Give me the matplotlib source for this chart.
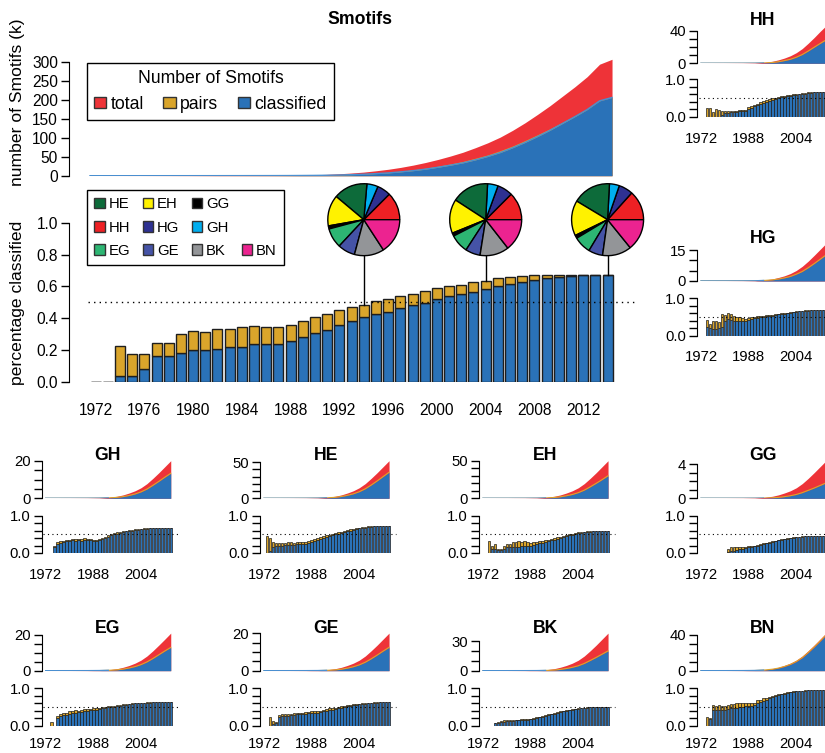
import numpy as np
import matplotlib.pyplot as plt
from matplotlib.patches import Patch

plt.rcParams['font.family'] = ['Liberation Sans', 'DejaVu Sans']

W, H = 825, 753
fig = plt.figure(figsize=(W / 100, H / 100), dpi=100)

RED = '#EE3338'
GOLD = '#DAA52B'
BLUE = '#2A72B8'
EDGE = '#1e1e1e'

years = np.arange(1972, 2015)

# main chart: cumulative number of smotifs (thousands)
main_total_k = [0.01, 0.02, 0.05, 0.08, 0.1, 0.15, 0.2, 0.25, 0.3, 0.4,
                0.5, 0.6, 0.7, 0.85, 1.0, 1.2, 1.5, 2.0, 2.6, 3.5,
                5, 7, 9.5, 13, 17, 22, 28, 35, 43, 52,
                62, 74, 87, 102, 120, 140, 162, 185, 210, 235,
                262, 295, 308]
main_pairs_k = [0, 0, 0.01, 0.01, 0.02, 0.04, 0.05, 0.07, 0.1, 0.12,
                0.17, 0.2, 0.24, 0.3, 0.35, 0.41, 0.54, 0.76, 1.05, 1.5,
                2.25, 3.3, 4.6, 6.6, 8.8, 11.9, 15.5, 20, 25.2, 31.2,
                37.8, 46.3, 55.1, 66.3, 78.7, 93.1, 108.4, 124.1, 141.3, 158.2,
                176, 198.5, 207.3]
main_class_k = [0, 0, 0, 0, 0.01, 0.02, 0.03, 0.05, 0.06, 0.08,
                0.1, 0.13, 0.15, 0.2, 0.24, 0.29, 0.38, 0.56, 0.8, 1.15,
                1.8, 2.7, 3.8, 5.5, 7.4, 10.2, 13.4, 17.4, 22.4, 27.9,
                34, 41.9, 50.9, 61.2, 73.9, 88, 103.5, 120, 138, 156,
                175, 198, 207]

# main chart: fraction of pairs / classified per year
main_pairs_frac = [0, 0, 0.227, 0.177, 0.173, 0.242, 0.246, 0.297, 0.318, 0.312,
                   0.33, 0.33, 0.343, 0.35, 0.345, 0.343, 0.358, 0.379, 0.406, 0.423,
                   0.45, 0.467, 0.484, 0.505, 0.52, 0.539, 0.553, 0.572, 0.587, 0.60,
                   0.61, 0.625, 0.633, 0.65, 0.656, 0.665, 0.669, 0.671, 0.673, 0.673,
                   0.673, 0.673, 0.673]
main_class_frac = [0, 0, 0.038, 0.038, 0.08, 0.162, 0.16, 0.183, 0.202, 0.202,
                   0.206, 0.221, 0.221, 0.236, 0.24, 0.24, 0.255, 0.282, 0.309, 0.328,
                   0.358, 0.381, 0.404, 0.423, 0.438, 0.463, 0.481, 0.497, 0.52, 0.537,
                   0.549, 0.566, 0.585, 0.60, 0.616, 0.629, 0.639, 0.65, 0.658, 0.665,
                   0.669, 0.671, 0.673]

# pie charts (degrees of each class)
pie_labels = ['HH', 'HG', 'GH', 'HE', 'EH', 'GG', 'EG', 'GE', 'BK', 'BN']
pie_years = [1994, 2004, 2014]
pie_1994 = [45, 22, 18, 55, 50, 5, 32, 28, 48, 57]
pie_2004 = [45, 25, 17, 60, 55, 5, 30, 24, 47, 52]
pie_2014 = [48, 23, 16, 62, 57, 5, 28, 23, 47, 51]

class_colors = {'HE': '#0D6B3A', 'EH': '#FFF200', 'GG': '#000000',
                'HH': '#EE2024', 'HG': '#2E3192', 'GH': '#00AEEF',
                'EG': '#2DB673', 'GE': '#4553A6', 'BK': '#939598',
                'BN': '#EC2390'}

# small panels: cumulative totals (thousands) at these years
area_years = [1972, 1980, 1986, 1990, 1993, 1996, 1998, 2000, 2002, 2004,
              2006, 2008, 2010, 2012, 2014]
sm_total = {
    'HH': [0, 0.05, 0.15, 0.4, 1.1, 2.5, 4.2, 6.4, 9.2, 13, 18, 24.5, 31.5, 39, 46],
    'HG': [0, 0.02, 0.06, 0.15, 0.45, 1.0, 1.7, 2.5, 3.6, 5.1, 7.1, 9.6, 12.4, 15.3, 18.2],
    'GH': [0, 0.02, 0.06, 0.16, 0.46, 1.1, 1.8, 2.8, 4.0, 5.6, 7.8, 10.6, 13.6, 16.8, 20],
    'HE': [0, 0.05, 0.16, 0.42, 1.2, 2.9, 4.7, 7.3, 10.4, 14.6, 20.3, 27.6, 35.4, 43.7, 52],
    'EH': [0, 0.05, 0.15, 0.4, 1.15, 2.75, 4.5, 7, 10, 14, 19.5, 26.5, 34, 42, 50],
    'GG': [0, 0.004, 0.013, 0.035, 0.1, 0.24, 0.4, 0.62, 0.88, 1.23, 1.72, 2.33, 3.0, 3.7, 4.4],
    'EG': [0, 0.02, 0.06, 0.17, 0.48, 1.15, 1.9, 2.9, 4.2, 5.9, 8.2, 11.1, 14.3, 17.6, 21],
    'GE': [0, 0.02, 0.06, 0.16, 0.46, 1.1, 1.8, 2.8, 4.0, 5.6, 7.8, 10.6, 13.6, 16.8, 20],
    'BK': [0, 0.04, 0.12, 0.3, 0.9, 2.1, 3.5, 5.3, 7.6, 10.6, 14.8, 20.1, 25.8, 31.9, 38],
    'BN': [0, 0.04, 0.13, 0.34, 0.97, 2.3, 3.8, 5.9, 8.4, 11.8, 16.4, 22.3, 28.6, 35.3, 42],
}
sm_class = {
    'HH': [0, 0.01, 0.03, 0.1, 0.35, 1.0, 1.9, 3.3, 4.9, 7.4, 10.7, 15, 19.6, 24.2, 28.6],
    'HG': [0, 0.01, 0.03, 0.08, 0.25, 0.55, 0.95, 1.5, 2.2, 3.3, 4.6, 6.4, 8.4, 10.5, 12.6],
    'GH': [0, 0.01, 0.02, 0.06, 0.2, 0.5, 0.9, 1.5, 2.3, 3.4, 4.9, 6.9, 9.0, 11.2, 13.3],
    'HE': [0, 0.02, 0.06, 0.18, 0.55, 1.4, 2.5, 4.1, 6.2, 9.1, 13.1, 18.3, 24, 30, 36],
    'EH': [0, 0.01, 0.04, 0.12, 0.4, 1.1, 2.0, 3.4, 5.1, 7.5, 10.8, 15.2, 19.9, 24.8, 30],
    'GG': [0, 0, 0, 0.005, 0.02, 0.06, 0.11, 0.19, 0.3, 0.45, 0.66, 0.93, 1.2, 1.5, 1.8],
    'EG': [0, 0.005, 0.02, 0.07, 0.2, 0.5, 0.9, 1.5, 2.3, 3.4, 4.9, 6.8, 8.9, 11, 13],
    'GE': [0, 0.005, 0.02, 0.06, 0.18, 0.45, 0.8, 1.35, 2.1, 3.1, 4.5, 6.3, 8.3, 10.4, 12.4],
    'BK': [0, 0.005, 0.02, 0.07, 0.25, 0.7, 1.3, 2.2, 3.4, 5.0, 7.3, 10.3, 13.4, 16.7, 20],
    'BN': [0, 0.02, 0.07, 0.2, 0.65, 1.7, 2.9, 4.7, 7.0, 10.2, 14.5, 20.2, 26.4, 33, 40],
}
sm_top_tick = {'HH': (40, 10), 'HG': (15, 5), 'GH': (20, 5), 'HE': (50, 10),
               'EH': (50, 10), 'GG': (4, 1), 'EG': (20, 5), 'GE': (20, 5),
               'BK': (30, 10), 'BN': (40, 10)}

# small panels: fraction of pairs / classified per year (1972-2014)
sm_pairs = {
    'HH': [0, 0, .24, .23, .12, .2, .18, .16, .15, .15, .15, .15, .16, .17, .17, .18, .25, .28, .32, .35,
           .38, .41, .44, .47, .49, .51, .53, .55, .56, .58, .59, .60, .61, .62, .63, .64, .65, .66, .66, .67,
           .67, .67, .67],
    'HG': [0, 0, .42, .3, .38, .4, .36, .58, .55, .62, .58, .52, .5, .49, .47, .45, .47, .49, .5, .52,
           .53, .54, .55, .56, .56, .57, .59, .6, .61, .62, .63, .64, .65, .66, .67, .68, .68, .69, .69, .69,
           .69, .69, .69],
    'GH': [0, 0, 0, .2, .3, .31, .33, .36, .36, .38, .37, .38, .37, .39, .38, .38, .36, .36, .37, .4,
           .43, .47, .5, .53, .55, .57, .59, .6, .61, .62, .63, .64, .65, .66, .66, .67, .67, .67, .67, .67,
           .67, .67, .67],
    'HE': [0, .45, .4, .3, .26, .28, .27, .28, .3, .3, .28, .29, .3, .3, .3, .32, .35, .38, .4, .42,
           .45, .47, .49, .51, .53, .55, .57, .59, .61, .63, .65, .66, .68, .69, .7, .71, .72, .72, .73, .73,
           .73, .73, .73],
    'EH': [0, 0, .33, .2, .24, .1, .1, .2, .25, .25, .3, .3, .32, .3, .31, .3, .28, .29, .3, .31,
           .33, .35, .36, .38, .4, .42, .44, .46, .48, .5, .52, .54, .55, .56, .57, .58, .59, .6, .6, .6,
           .6, .6, .6],
    'GG': [0, 0, 0, 0, 0, 0, 0, 0, 0, .12, .15, .15, .16, .15, .16, .17, .18, .19, .2, .22,
           .24, .26, .28, .3, .32, .33, .35, .37, .38, .4, .41, .42, .43, .44, .45, .45, .46, .46, .46, .46,
           .46, .46, .46],
    'EG': [0, 0, .1, 0, .25, .3, .35, .33, .38, .4, .42, .4, .42, .44, .45, .45, .47, .47, .48, .5,
           .5, .52, .53, .54, .55, .56, .57, .58, .59, .6, .61, .61, .62, .62, .63, .63, .63, .63, .63, .63,
           .63, .63, .63],
    'GE': [0, 0, .22, .12, .1, .28, .3, .3, .3, .32, .34, .34, .33, .35, .36, .36, .38, .38, .38, .4,
           .42, .44, .46, .47, .48, .5, .52, .53, .55, .56, .57, .58, .59, .6, .61, .62, .62, .63, .63, .63,
           .63, .63, .63],
    'BK': [0, 0, 0, 0, .08, .1, .12, .14, .14, .15, .15, .16, .16, .17, .18, .18, .19, .2, .22, .24,
           .26, .28, .3, .32, .34, .36, .38, .4, .41, .43, .44, .45, .46, .47, .48, .49, .5, .5, .5, .5,
           .5, .5, .5],
    'BN': [0, 0, .22, .2, .55, .53, .55, .52, .52, .55, .58, .58, .6, .6, .6, .62, .62, .6, .62, .68,
           .7, .73, .75, .78, .8, .82, .84, .86, .88, .9, .91, .92, .93, .94, .94, .95, .95, .95, .95, .95,
           .95, .95, .95],
}
sm_classf = {
    'HH': [0, 0, 0, 0, 0, 0, 0, .05, .1, .1, .12, .12, .13, .14, .15, .16, .2, .24, .28, .31,
           .34, .37, .4, .43, .45, .47, .5, .52, .53, .55, .56, .57, .58, .6, .61, .62, .63, .64, .65, .66,
           .66, .67, .67],
    'HG': [0, 0, .24, .2, .18, .17, .2, .22, .38, .45, .42, .4, .38, .38, .38, .4, .42, .44, .46, .48,
           .49, .5, .52, .53, .54, .55, .57, .58, .59, .6, .62, .63, .64, .65, .66, .67, .67, .68, .68, .69,
           .69, .69, .69],
    'GH': [0, 0, 0, .17, .25, .27, .29, .32, .32, .34, .33, .34, .33, .35, .34, .34, .32, .32, .34, .37,
           .4, .44, .47, .5, .52, .54, .56, .58, .59, .6, .61, .62, .63, .64, .65, .66, .66, .66, .66, .67,
           .67, .67, .67],
    'HE': [0, 0, .05, .15, .18, .2, .2, .21, .22, .22, .22, .23, .24, .24, .25, .27, .3, .33, .35, .38,
           .41, .43, .45, .48, .5, .52, .54, .56, .58, .6, .62, .64, .66, .67, .68, .69, .7, .71, .72, .72,
           .73, .73, .73],
    'EH': [0, 0, 0, .12, .1, .08, .08, .12, .15, .15, .16, .16, .17, .18, .19, .19, .2, .22, .24, .26,
           .28, .3, .32, .34, .36, .38, .41, .43, .45, .47, .49, .51, .53, .54, .55, .56, .57, .58, .59, .59,
           .6, .6, .6],
    'GG': [0, 0, 0, 0, 0, 0, 0, 0, 0, .03, .05, .06, .08, .1, .12, .13, .15, .16, .18, .2,
           .22, .24, .26, .28, .3, .32, .34, .35, .37, .38, .4, .41, .42, .43, .44, .45, .45, .46, .46, .46,
           .46, .46, .46],
    'EG': [0, 0, 0, 0, .2, .25, .28, .28, .32, .34, .35, .36, .37, .39, .4, .41, .42, .43, .44, .46,
           .47, .49, .5, .51, .53, .54, .55, .56, .58, .59, .6, .6, .61, .61, .62, .62, .63, .63, .63, .63,
           .63, .63, .63],
    'GE': [0, 0, 0, .05, .06, .22, .25, .26, .27, .28, .29, .3, .3, .31, .32, .33, .34, .34, .35, .36,
           .38, .4, .42, .43, .45, .47, .48, .5, .52, .53, .55, .56, .57, .58, .59, .6, .61, .62, .62, .63,
           .63, .63, .63],
    'BK': [0, 0, 0, 0, .06, .08, .1, .11, .12, .13, .13, .14, .14, .15, .16, .16, .17, .18, .2, .22,
           .24, .26, .28, .3, .32, .34, .36, .38, .39, .41, .42, .44, .45, .46, .47, .48, .49, .5, .5, .5,
           .5, .5, .5],
    'BN': [0, 0, 0, .18, .42, .42, .42, .42, .42, .44, .46, .47, .48, .5, .5, .52, .53, .53, .55, .6,
           .63, .67, .7, .73, .76, .79, .81, .84, .86, .88, .9, .91, .92, .93, .94, .94, .95, .95, .95, .95,
           .95, .95, .95],
}

# panel name -> (column, row)
panel_grid = {'HH': (3, 0), 'HG': (3, 1), 'GH': (0, 2), 'HE': (1, 2), 'EH': (2, 2),
              'GG': (3, 2), 'EG': (0, 3), 'GE': (1, 3), 'BK': (2, 3), 'BN': (3, 3)}


def px_axes(x0, y0, x1, y1):
    return fig.add_axes([x0 / W, 1 - y1 / H, (x1 - x0) / W, (y1 - y0) / H])


def r_style(ax):
    for s in ['top', 'right', 'bottom']:
        ax.spines[s].set_visible(False)
    ax.patch.set_alpha(0)


# ---------------- main area chart ----------------
ax1 = px_axes(69, 175.7 - 315 * 0.378, 640, 175.7)
ax1.fill_between(years, 0, main_total_k, color=RED, lw=0)
ax1.fill_between(years, 0, main_pairs_k, color=GOLD, lw=0)
ax1.fill_between(years, 0, main_class_k, color=BLUE, lw=0)
ax1.plot(years, main_class_k, color='#4a8fd0', lw=1)
ax1.set_xlim(1970.31, 2016.25)
ax1.set_ylim(0, 315)
r_style(ax1)
ax1.spines['left'].set_bounds(0, 300)
ax1.set_xticks([])
ax1.set_yticks(np.arange(0, 301, 50))
ax1.tick_params(axis='y', length=6, width=1, labelsize=11.2, pad=2)
fig.text(360 / W, 1 - 19 / H, 'Smotifs', ha='center', va='center',
         fontsize=12.7, fontweight='bold')
fig.text(18 / W, 1 - 102 / H, 'number of Smotifs (k)', rotation=90,
         ha='center', va='center', fontsize=12.6)

leg1 = ax1.legend(handles=[Patch(facecolor=RED, edgecolor='#333333', label='total'),
                           Patch(facecolor=GOLD, edgecolor='#333333', label='pairs'),
                           Patch(facecolor=BLUE, edgecolor='#333333', label='classified')],
                  title='Number of Smotifs', ncol=3, fontsize=12.7, title_fontsize=12.7,
                  loc='upper left', bbox_to_anchor=(87 / W, 1 - 63 / H),
                  bbox_transform=fig.transFigure, frameon=True, fancybox=False,
                  edgecolor='black', framealpha=1, borderpad=0.4,
                  handlelength=0.7, handleheight=0.6, handletextpad=0.25,
                  columnspacing=1.1, borderaxespad=0)
leg1.get_frame().set_linewidth(1)

# ---------------- main bar chart ----------------
ax2 = px_axes(69, 222.7, 640, 381.7)
pf = np.array(main_pairs_frac)
cf = np.array(main_class_frac)
ax2.bar(years, cf, width=0.82, color=BLUE, edgecolor=EDGE, lw=1)
ax2.bar(years, pf - cf, bottom=cf, width=0.82, color=GOLD, edgecolor=EDGE, lw=1)
ax2.plot([1971.4, 2016.25], [0.5, 0.5], ls=(0, (1, 3)), color='black', lw=1,
         clip_on=False, zorder=5)
ax2.set_xlim(1969.82, 2016.66)
ax2.set_ylim(0, 1)
r_style(ax2)
ax2.spines['left'].set_bounds(0, 1)
ax2.set_yticks(np.arange(0, 1.01, 0.2))
ax2.set_yticklabels(['0.0', '0.2', '0.4', '0.6', '0.8', '1.0'])
ax2.set_xticks(np.arange(1972, 2013, 4))
ax2.tick_params(axis='y', length=6, width=1, labelsize=11.2, pad=2)
ax2.tick_params(axis='x', length=0, labelsize=11.2, pad=15)
fig.text(18 / W, 1 - 303 / H, 'percentage classified', rotation=90,
         ha='center', va='center', fontsize=12.6)

# lines from bars up to the pies
pie_cy = 219.7
pie_r = 36.7
for yr in pie_years:
    top = pf[years == yr][0]
    ax2.plot([yr, yr], [top, (381.7 - pie_cy) / 159], color='black', lw=1,
             clip_on=False, zorder=1)

blank = Patch(facecolor='none', edgecolor='none', label='')
order = [['HE', 'HH', 'EG'], ['EH', 'HG', 'GE'], ['GG', 'GH', 'BK'], [None, None, 'BN']]
handles = []
for col in order:
    for c in col:
        if c is None:
            handles.append(blank)
        else:
            handles.append(Patch(facecolor=class_colors[c], edgecolor='#333333', label=c))
leg2 = ax2.legend(handles=handles, ncol=4, fontsize=10.7, loc='upper left',
                  bbox_to_anchor=(87 / W, 1 - 190 / H), bbox_transform=fig.transFigure,
                  frameon=True, fancybox=False, edgecolor='black', framealpha=1,
                  borderpad=0.5, handlelength=0.7, handleheight=0.7, handletextpad=0.25,
                  columnspacing=0.85, labelspacing=0.62, borderaxespad=0)
leg2.get_frame().set_linewidth(1)

# ---------------- pies ----------------
for yr, vals in zip(pie_years, [pie_1994, pie_2004, pie_2014]):
    cx = 95.6 + (yr - 1972) * 12.19
    axp = px_axes(cx - pie_r, pie_cy - pie_r, cx + pie_r, pie_cy + pie_r)
    axp.pie(vals, colors=[class_colors[c] for c in pie_labels], startangle=0,
            counterclock=True, wedgeprops=dict(edgecolor='black', linewidth=1))
    axp.set_xlim(-1.02, 1.02)
    axp.set_ylim(-1.02, 1.02)
    axp.set_aspect('equal')
    axp.axis('off')

# ---------------- small panels ----------------
col_x = [41.7, 260, 479, 697]
row_zero_top = [63.3, 281, 498.3, 670.7]
row_zero_bar = [116.7, 335.7, 553, 725.7]
row_label_pad = [11, 10, 11, 8]
for name, (c, r) in panel_grid.items():
    x0 = col_x[c]
    tot = sm_total[name]
    cls = sm_class[name]
    top_tick, step = sm_top_tick[name]

    axa = px_axes(x0, row_zero_top[r] - 37.6, x0 + 135, row_zero_top[r])
    axa.fill_between(area_years, 0, tot, color=RED, lw=0)
    axa.fill_between(area_years, 0, cls, color=BLUE, lw=0)
    axa.plot(area_years, cls, color=GOLD, lw=0.8)
    axa.plot(area_years[:5], cls[:5], color='#4a8fd0', lw=1)
    axa.set_xlim(1970.66, 2016.0)
    axa.set_ylim(0, max(tot))
    r_style(axa)
    axa.spines['left'].set_bounds(0, top_tick)
    ticks = np.arange(0, top_tick + step / 2, step)
    axa.set_yticks(ticks)
    axa.set_yticklabels([str(top_tick) if t == ticks[-1] else ('0' if t == 0 else '')
                         for t in ticks])
    axa.set_xticks([])
    axa.tick_params(axis='y', length=6, width=1, labelsize=10.7, pad=2)
    fig.text((x0 + 66) / W, 1 - (row_zero_top[r] - 42.5) / H, name, ha='center',
             va='center', fontsize=12.7, fontweight='bold')

    axb = px_axes(x0, row_zero_bar[r] - 37.4, x0 + 135, row_zero_bar[r])
    p = np.array(sm_pairs[name])
    q = np.array(sm_classf[name])
    axb.bar(years, q, width=0.82, color=BLUE, edgecolor=EDGE, lw=0.5)
    axb.bar(years, p - q, bottom=q, width=0.82, color=GOLD, edgecolor=EDGE, lw=0.5)
    axb.plot([1971.2, 2016.5], [0.5, 0.5], ls=(0, (1, 3)), color='black', lw=0.8,
             clip_on=False, zorder=5)
    axb.set_xlim(1970.66, 2016.0)
    axb.set_ylim(0, 1)
    r_style(axb)
    axb.spines['left'].set_bounds(0, 1)
    axb.set_yticks(np.arange(0, 1.01, 0.2))
    axb.set_yticklabels(['0.0', '', '', '', '', '1.0'])
    axb.set_xticks([1972, 1988, 2004])
    axb.tick_params(axis='y', length=6, width=1, labelsize=10.7, pad=2)
    axb.tick_params(axis='x', length=0, labelsize=10.7, pad=row_label_pad[r])

fig.savefig('out.png', dpi=100)
